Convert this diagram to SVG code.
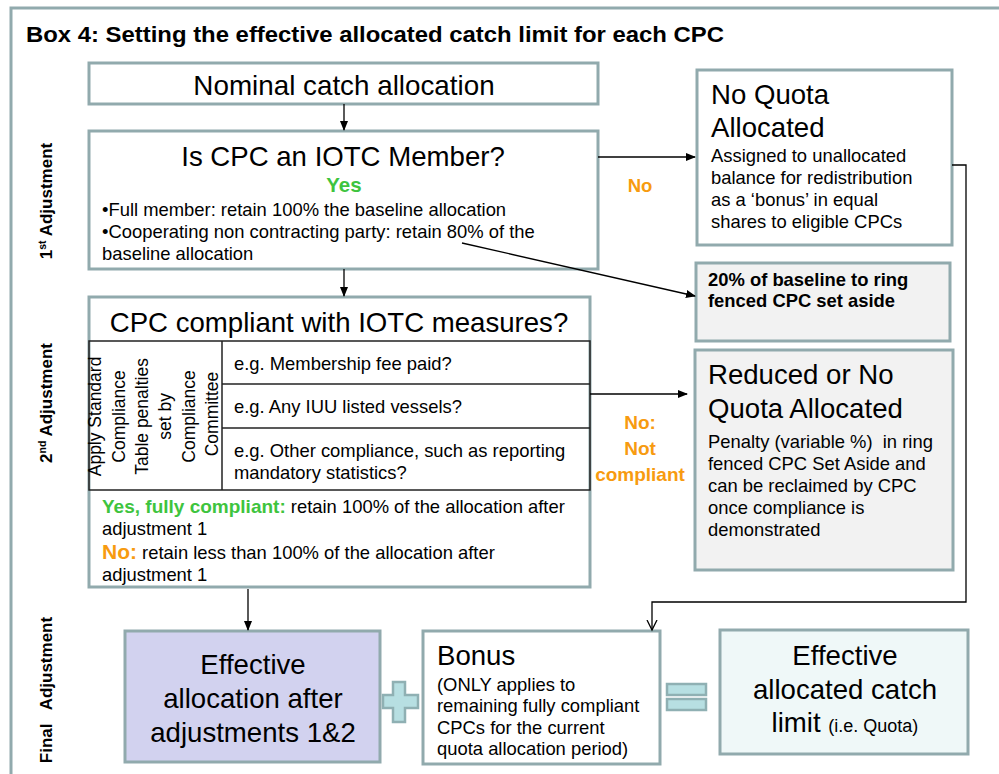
<svg xmlns="http://www.w3.org/2000/svg" width="999" height="774" viewBox="0 0 999 774">
<style>
text{font-family:"Liberation Sans",Arial,sans-serif;fill:#000}
.box{fill:#fff;stroke:#91aaad;stroke-width:3}
.grey{fill:#f2f2f2}
.t24{font-size:27.8px}
.t26{font-size:27.6px}
.t16{font-size:18.4px}
.b{font-weight:bold}
.side{font-size:17px;font-weight:bold}
.org{fill:#f79b10}
.grn{fill:#3ec43e}
.ln{fill:none;stroke:#000;stroke-width:1.3}
.tl{fill:none;stroke:#222;stroke-width:1.5}
.sym{fill:#b7dfe2;stroke:#8fb0b3;stroke-width:2.5}
</style>
<defs>
<marker id="ah" markerWidth="10" markerHeight="10" refX="9" refY="5" orient="auto" markerUnits="userSpaceOnUse">
<path d="M0,1 L10,5 L0,9 z" fill="#000"/>
</marker>
<marker id="av" markerWidth="12" markerHeight="12" refX="10" refY="6" orient="auto" markerUnits="userSpaceOnUse">
<path d="M0,1 L10,6 L0,11" fill="none" stroke="#000" stroke-width="1.3"/>
</marker>
</defs>
<rect x="0" y="0" width="999" height="774" fill="#fff"/>
<rect id="frame" x="11" y="8" width="1010" height="800" fill="none" stroke="#91aaad" stroke-width="3"/>
<text x="26" y="42" font-size="22.5" font-weight="bold" textLength="698" lengthAdjust="spacingAndGlyphs">Box 4: Setting the effective allocated catch limit for each CPC</text>

<g id="side-labels">
<text class="side" transform="translate(52,201) rotate(-90)" text-anchor="middle">1<tspan font-size="10.5" baseline-shift="super">st</tspan> Adjustment</text>
<text class="side" transform="translate(52,403) rotate(-90)" text-anchor="middle">2<tspan font-size="10.5" baseline-shift="super">nd</tspan> Adjustment</text>
<text class="side" transform="translate(52,690) rotate(-90)" text-anchor="middle" word-spacing="9">Final Adjustment</text>
</g>

<g id="nominal">
<rect class="box" x="89" y="63" width="509" height="41"/>
<text class="t24" x="344" y="95" text-anchor="middle">Nominal catch allocation</text>
</g>

<g id="member">
<rect class="box" x="89" y="131" width="509" height="138"/>
<text class="t26" x="343" y="166" text-anchor="middle">Is CPC an IOTC Member?</text>
<text x="344" y="192" text-anchor="middle" font-size="20.5" class="b grn">Yes</text>
<text class="t16" x="102" y="216">•Full member: retain 100% the baseline allocation</text>
<text class="t16" x="102" y="238">•Cooperating non contracting party: retain 80% of the</text>
<text class="t16" x="102" y="260">baseline allocation</text>
</g>

<text id="no-label" x="640" y="192" text-anchor="middle" font-size="18.5" class="b org">No</text>

<g id="noquota">
<rect class="box" x="697" y="70" width="255" height="175"/>
<text class="t26" x="711" y="104">No Quota</text>
<text class="t26" x="711" y="137">Allocated</text>
<text class="t16" x="711" y="162">Assigned to unallocated</text>
<text class="t16" x="711" y="184">balance for redistribution</text>
<text class="t16" x="711" y="206">as a ‘bonus’ in equal</text>
<text class="t16" x="711" y="228">shares to eligible CPCs</text>
</g>

<g id="setaside">
<rect class="box grey" x="696" y="263" width="254" height="78"/>
<text class="t16 b" x="708" y="286" xml:space="preserve">20% of baseline to ring</text>
<text class="t16 b" x="708" y="307">fenced CPC set aside</text>
</g>

<g id="compliant">
<rect class="box" x="89" y="297" width="501" height="290"/>
<text class="t26" x="339" y="332" text-anchor="middle">CPC compliant with IOTC measures?</text>
<rect class="tl" x="89" y="341" width="501" height="149"/>
<line class="tl" x1="222" y1="341" x2="222" y2="490"/>
<line class="tl" x1="222" y1="384" x2="590" y2="384"/>
<line class="tl" x1="222" y1="428" x2="590" y2="428"/>
<text transform="translate(0,414) rotate(-90)" text-anchor="middle" font-size="17.5">
<tspan x="0" y="101">Apply Standard</tspan>
<tspan x="0" y="124.5">Compliance</tspan>
<tspan x="0" y="148">Table penalties</tspan>
<tspan x="0" y="171">set by</tspan>
<tspan x="0" y="194.5">Compliance</tspan>
<tspan x="0" y="218">Committee</tspan>
</text>
<text class="t16" x="234" y="370">e.g. Membership fee paid?</text>
<text class="t16" x="234" y="413">e.g. Any IUU listed vessels?</text>
<text class="t16" x="234" y="457">e.g. Other compliance, such as reporting</text>
<text class="t16" x="234" y="479">mandatory statistics?</text>
<text class="t16" x="102" y="513"><tspan class="b grn" font-size="19">Yes, fully compliant:</tspan> retain 100% of the allocation after</text>
<text class="t16" x="102" y="535">adjustment 1</text>
<text class="t16" x="102" y="559"><tspan class="b org" font-size="21">No:</tspan> retain less than 100% of the allocation after</text>
<text class="t16" x="102" y="581">adjustment 1</text>
</g>

<g id="notcompliant-label" font-size="19" text-anchor="middle">
<text x="640" y="429" class="b org">No:</text>
<text x="640" y="455" class="b org">Not</text>
<text x="640" y="481" class="b org">compliant</text>
</g>

<g id="reduced">
<rect class="box grey" x="695" y="350" width="258" height="220"/>
<text class="t26" x="708" y="384">Reduced or No</text>
<text class="t26" x="708" y="418">Quota Allocated</text>
<text class="t16" x="708" y="448" xml:space="preserve">Penalty (variable %)  in ring</text>
<text class="t16" x="708" y="470">fenced CPC Set Aside and</text>
<text class="t16" x="708" y="492">can be reclaimed by CPC</text>
<text class="t16" x="708" y="514">once compliance is</text>
<text class="t16" x="708" y="536">demonstrated</text>
</g>

<g id="effective-after">
<rect class="box" x="125" y="631" width="255" height="131" style="fill:#d2d2ef"/>
<text class="t26" x="253" y="674" text-anchor="middle">Effective</text>
<text class="t26" x="253" y="708" text-anchor="middle">allocation after</text>
<text class="t26" x="253" y="742" text-anchor="middle">adjustments 1&amp;2</text>
</g>

<g id="plus">
<path class="sym" d="M393,682 H405 V695 H418 V708 H405 V722 H393 V708 H383 V695 H393 Z"/>
</g>

<g id="bonus">
<rect class="box" x="423" y="631" width="237" height="133"/>
<text class="t26" x="437" y="665">Bonus</text>
<text class="t16" x="437" y="691">(ONLY applies to</text>
<text class="t16" x="437" y="712">remaining fully compliant</text>
<text class="t16" x="437" y="734">CPCs for the current</text>
<text class="t16" x="437" y="755">quota allocation period)</text>
</g>

<g id="equals">
<rect class="sym" x="667" y="684" width="39" height="11"/>
<rect class="sym" x="667" y="699" width="39" height="11"/>
</g>

<g id="final">
<rect class="box" x="720" y="630" width="248" height="124" style="fill:#eff8f8"/>
<text class="t26" x="845" y="665" text-anchor="middle">Effective</text>
<text class="t26" x="845" y="699" text-anchor="middle">allocated catch</text>
<text class="t26" x="845" y="732" text-anchor="middle">limit <tspan font-size="18">(i.e. Quota)</tspan></text>
</g>

<g id="connectors">
<line class="ln" x1="344" y1="104" x2="344" y2="130" marker-end="url(#ah)"/>
<line class="ln" x1="598" y1="157" x2="695" y2="157" marker-end="url(#ah)"/>
<line class="ln" x1="462" y1="243" x2="695" y2="296" marker-end="url(#ah)"/>
<line class="ln" x1="344" y1="269" x2="344" y2="296" marker-end="url(#ah)"/>
<line class="ln" x1="590" y1="394" x2="687" y2="394" marker-end="url(#ah)"/>
<line class="ln" x1="248" y1="589" x2="248" y2="630" marker-end="url(#ah)"/>
<polyline class="ln" points="952,165 966,165 966,602 652,602 652,630" marker-end="url(#av)"/>
</g>
</svg>
